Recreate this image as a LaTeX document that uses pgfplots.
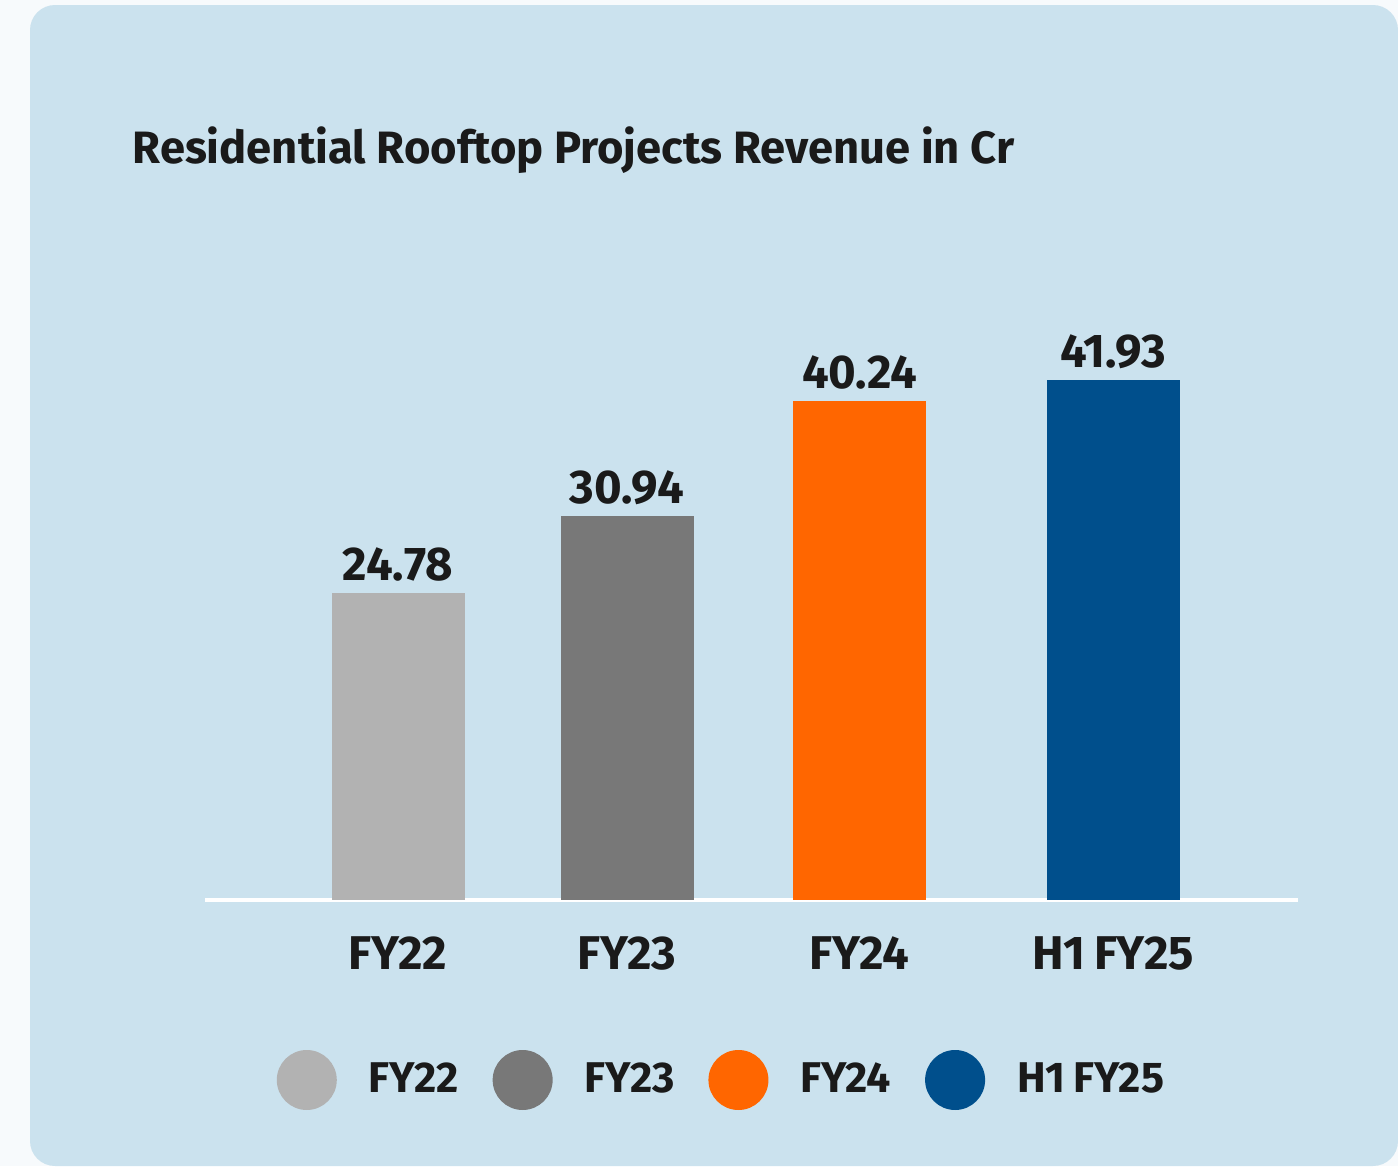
\documentclass[border=0pt]{standalone}
\usepackage{pgfplots}
\pgfplotsset{compat=1.18}
\usepackage{fontspec}
\setmainfont{Fira Sans}
\definecolor{bgc}{HTML}{CBE2EE}
\definecolor{outc}{HTML}{F7FAFC}
\definecolor{txt}{HTML}{1A1A1A}
\definecolor{cA}{HTML}{B2B2B2}
\definecolor{cB}{HTML}{787878}
\definecolor{cC}{HTML}{FF6600}
\definecolor{cD}{HTML}{004F8C}
\def\u{0.3pt}
\begin{document}
\begin{tikzpicture}
\fill[outc] (0,0) rectangle ({1398*\u},{-1166*\u});
\fill[bgc, rounded corners=7.5pt] ({30*\u},{-5*\u}) rectangle ({1398*\u},{-1166*\u});
\node[anchor=base west, inner sep=0pt, text=txt, font=\bfseries\fontsize{13.6}{16}\selectfont] at ({132*\u},{-163*\u}) {Residential Rooftop Projects Revenue in Cr};
\begin{axis}[
  at={({205*\u},{-900*\u})}, anchor=south west,
  scale only axis, width={1093*\u}, height={620*\u},
  xmin=205, xmax=1298, ymin=0, ymax=50,
  axis y line=none, axis x line*=bottom,
  axis line style={draw=white, line width=1.2pt},
  xtick={398,627,859.5,1113}, xticklabels={FY22,FY23,FY24,H1\hspace{0.18em}FY25},
  major tick length=0pt,
  xticklabel style={anchor=north, inner sep=0pt, yshift=-10.7pt, text=txt, font=\bfseries\fontsize{14.2}{17}\selectfont},
  ybar, bar width={133*\u}, bar shift=0pt,
  clip=false,
  /pgf/number format/assume math mode=true,
  nodes near coords={\pgfmathprintnumber[fixed,fixed zerofill,precision=2]{\pgfplotspointmeta}},
  nodes near coords style={anchor=south, inner sep=0pt, yshift=3.3pt, text=txt, font=\bfseries\fontsize{14.2}{17}\selectfont},
  legend columns=4,
  legend image code/.code={\fill[#1] (9pt,0pt) circle (9pt);},
  legend style={draw=none, fill=none, at={(0.4716,-0.2903)}, anchor=center,
    font=\bfseries\fontsize{12.9}{15}\selectfont, text=txt,
    nodes={inner sep=0pt},
    /tikz/every odd column/.append style={column sep=9.6pt},
    /tikz/every even column/.append style={column sep=10.2pt}},
]
\addplot[fill=cA, draw=none] coordinates {(398,24.78)};
\addplot[fill=cB, draw=none] coordinates {(627,30.94)};
\addplot[fill=cC, draw=none] coordinates {(859.5,40.24)};
\addplot[fill=cD, draw=none] coordinates {(1113,41.93)};
\legend{FY22,FY23,FY24,H1\hspace{0.18em}FY25}
\end{axis}
\pgfresetboundingbox
\useasboundingbox (0,0) rectangle ({1398*\u},{-1166*\u});
\end{tikzpicture}
\end{document}
